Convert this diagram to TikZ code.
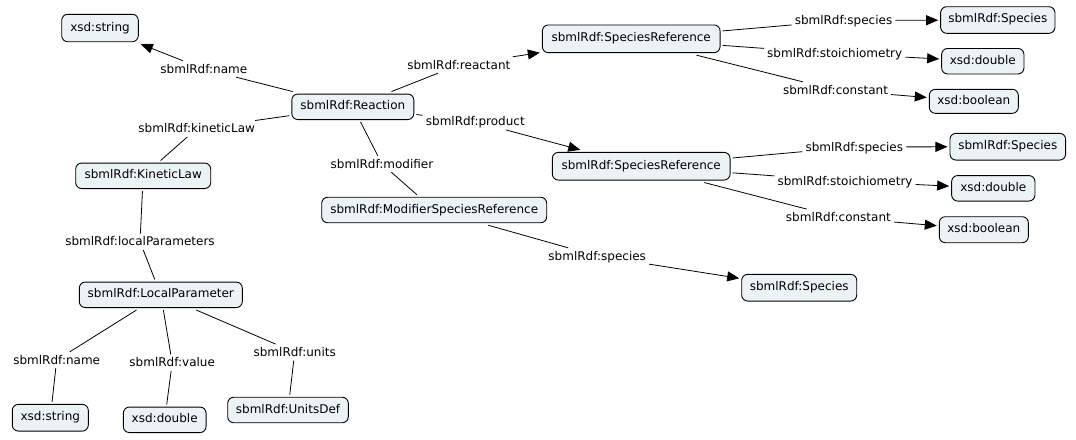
\documentclass[tikz,border=0pt]{standalone}
\usepackage{fontspec}
\setmainfont{DejaVu Sans}
\usetikzlibrary{arrows.meta}
\definecolor{conceptfill}{RGB}{236,243,246}
\begin{document}
\begin{tikzpicture}[x=1pt,y=-1pt,
  concept/.style={draw, fill=conceptfill, rounded corners=6pt, line width=0.9pt,
    minimum height=25.5pt, inner xsep=3pt, inner ysep=2pt,
    text height=9pt, text depth=3pt, outer sep=2.5pt,
    font=\fontsize{12}{14}\selectfont},
  phrase/.style={inner xsep=3pt, inner ysep=2pt, text height=10pt, text depth=2pt,
    font=\fontsize{12}{14}\selectfont},
  link/.style={line width=0.8pt},
  linkarrow/.style={link, -{Triangle[length=12pt,width=10pt]}}]
\useasboundingbox (0,0) rectangle (1076,439);

% concepts
\node[concept, minimum width=76.6pt, minimum height=27.4pt] (strA) at (100,28) {xsd:string};
\node[concept, minimum width=122pt] (reaction) at (352.8,106.8) {sbmlRdf:Reaction};
\node[concept, minimum width=135pt] (kinetic) at (143.2,175.8) {sbmlRdf:KineticLaw};
\node[concept, minimum width=163pt] (localp) at (160.8,294.8) {sbmlRdf:LocalParameter};
\node[concept, minimum width=76pt, minimum height=26.7pt] (strB) at (50.3,417.7) {xsd:string};
\node[concept, minimum width=82.7pt] (dblB) at (164.7,419.8) {xsd:double};
\node[concept, minimum width=120.6pt] (unitsdef) at (288,410) {sbmlRdf:UnitsDef};
\node[concept, minimum width=225pt] (modsr) at (434.2,210) {sbmlRdf:ModifierSpeciesReference};
\node[concept, minimum width=115pt, minimum height=26.7pt] (spB) at (799.2,287.7) {sbmlRdf:Species};
\node[concept, minimum width=177.7pt, minimum height=27.7pt] (srA) at (631.2,38.8) {sbmlRdf:SpeciesReference};
\node[concept, minimum width=114.3pt, minimum height=26.6pt] (spA) at (997.8,20) {sbmlRdf:Species};
\node[concept, minimum width=82.3pt] (dblA) at (982.8,61.2) {xsd:double};
\node[concept, minimum width=89pt, minimum height=24pt] (boolA) at (973.8,101.3) {xsd:boolean};
\node[concept, minimum width=177.7pt, minimum height=27.7pt] (srB) at (641.2,166.2) {sbmlRdf:SpeciesReference};
\node[concept, minimum width=115.7pt, minimum height=26.7pt] (spC) at (1007.8,146.7) {sbmlRdf:Species};
\node[concept, minimum width=83.3pt] (dblC) at (993.3,188.3) {xsd:double};
\node[concept, minimum width=89pt, minimum height=26pt] (boolC) at (983.8,229.7) {xsd:boolean};

% linking phrases
\node[phrase] (lname) at (203.8,69) {sbmlRdf:name};
\node[phrase] (lkin) at (196.7,128.7) {sbmlRdf:kineticLaw};
\node[phrase] (lreact) at (458.8,65) {sbmlRdf:reactant};
\node[phrase] (lprod) at (475.3,121.7) {sbmlRdf:product};
\node[phrase] (lmod) at (382,164) {sbmlRdf:modifier};
\node[phrase] (lloc) at (140,241.7) {sbmlRdf:localParameters};
\node[phrase] (lnameB) at (56.7,360) {sbmlRdf:name};
\node[phrase] (lval) at (172.2,362.7) {sbmlRdf:value};
\node[phrase] (lunits) at (294.7,352.3) {sbmlRdf:units};
\node[phrase] (lspB) at (597.2,256) {sbmlRdf:species};
\node[phrase] (lspA) at (843.5,20.5) {sbmlRdf:species};
\node[phrase] (lstA) at (834.7,53.5) {sbmlRdf:stoichiometry};
\node[phrase] (lconA) at (835.5,90) {sbmlRdf:constant};
\node[phrase] (lspC) at (854.3,147) {sbmlRdf:species};
\node[phrase] (lstC) at (845,181) {sbmlRdf:stoichiometry};
\node[phrase] (lconC) at (838.4,217.3) {sbmlRdf:constant};

% connectors
\draw[link] (reaction) -- (lname);
\draw[linkarrow] (lname) -- (strA);
\draw[link] (reaction) -- (lkin);
\draw[link] (lkin) -- (kinetic);
\draw[link] (kinetic) -- (lloc);
\draw[link] (lloc) -- (localp);
\draw[link] (localp) -- (lnameB);
\draw[link] (lnameB) -- (strB);
\draw[link] (localp) -- (lval);
\draw[link] (lval) -- (dblB);
\draw[link] (localp) -- (lunits);
\draw[link] (lunits) -- (unitsdef);
\draw[link] (reaction) -- (lmod);
\draw[link] (lmod) -- (modsr);
\draw[link] (reaction) -- (lreact);
\draw[linkarrow] (lreact) -- (srA);
\draw[link] (reaction) -- (lprod);
\draw[linkarrow] (lprod) -- (srB);
\draw[link] (srA) -- (lspA);
\draw[linkarrow] (lspA) -- (spA);
\draw[link] (srA) -- (lstA);
\draw[linkarrow] (lstA) -- (dblA);
\draw[link] (srA) -- (lconA);
\draw[linkarrow] (lconA) -- (boolA);
\draw[link] (srB) -- (lspC);
\draw[linkarrow] (lspC) -- (spC);
\draw[link] (srB) -- (lstC);
\draw[linkarrow] (lstC) -- (dblC);
\draw[link] (srB) -- (lconC);
\draw[linkarrow] (lconC) -- (boolC);
\draw[link] (modsr) -- (lspB);
\draw[linkarrow] (lspB) -- (spB);
\end{tikzpicture}
\end{document}
